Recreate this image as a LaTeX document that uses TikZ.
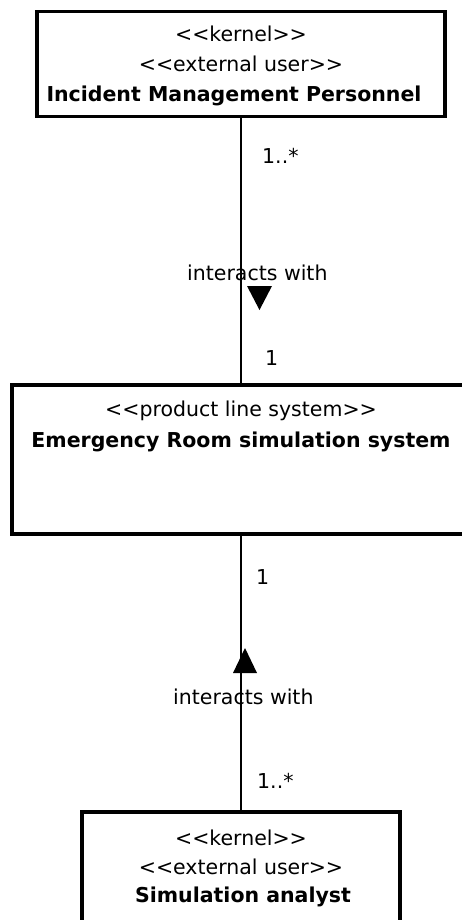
\documentclass[tikz,border=0pt]{standalone}
\usepackage{fontspec}
\setmainfont{DejaVu Sans}
\usepackage{tikz}
\usetikzlibrary{calc}

\def\boxthickness{3.5pt}
\def\linethickness{1.5pt}
\newcommand{\stereo}[1]{<\kern0pt<#1>\kern0pt>}
\tikzstyle{umlbox}=[rectangle, draw=black, line width=\boxthickness, inner sep=0pt, outer sep=0pt]
\tikzstyle{boxtext}=[inner sep=0pt, anchor=base, font=\fontsize{20.5}{30}\selectfont]
\tikzstyle{edgetext}=[inner sep=0pt, anchor=base west, font=\fontsize{20.5}{30}\selectfont]
\tikzstyle{assoc}=[draw=black, line width=\linethickness]

\begin{document}
\begin{tikzpicture}[x=1pt, y=-1pt]
\useasboundingbox (0,0) rectangle (462,920);
% boxes
\node [umlbox, minimum width=408, minimum height=105] (imp) at (241,64) {};
\node [umlbox, minimum width=458, minimum height=149] (ers) at (241,459.5) {};
\node [umlbox, minimum width=318, minimum height=120] (sa) at (241,872) {};
% texts in boxes
\node [boxtext] (impA) at (241,42) {\stereo{kernel}};
\node [boxtext] (impB) at (241,72) {\stereo{external user}};
\node [boxtext] (impC) at (234,102) {\bfseries Incident Management Personnel};
\node [boxtext] (ersA) at (241,416) {\stereo{product line system}};
\node [boxtext] (ersB) at (241,447) {\bfseries Emergency Room simulation system};
\node [boxtext] (saA) at (241,845) {\stereo{kernel}};
\node [boxtext] (saB) at (241,874) {\stereo{external user}};
\node [boxtext] (saC) at (243,902) {\bfseries Simulation analyst};
% associations
\draw [assoc] (imp.south) to (imp.south |- ers.north);
\draw [assoc] (sa.north) to (sa.north |- ers.south);
% labels
\node [edgetext] (multA) at (262,164) {1..*};
\node [edgetext] (nameA) at (187,280) {interacts with};
\node [edgetext] (multB) at (265,365) {1};
\node [edgetext] (multC) at (256,584) {1};
\node [edgetext] (nameB) at (173,704) {interacts with};
\node [edgetext] (multD) at (257,788) {1..*};
% reading direction
\fill (247,286) -- (272,286) -- (259.5,310) -- cycle;
\fill (233,673) -- (257,673) -- (245,648) -- cycle;
\end{tikzpicture}
\end{document}
